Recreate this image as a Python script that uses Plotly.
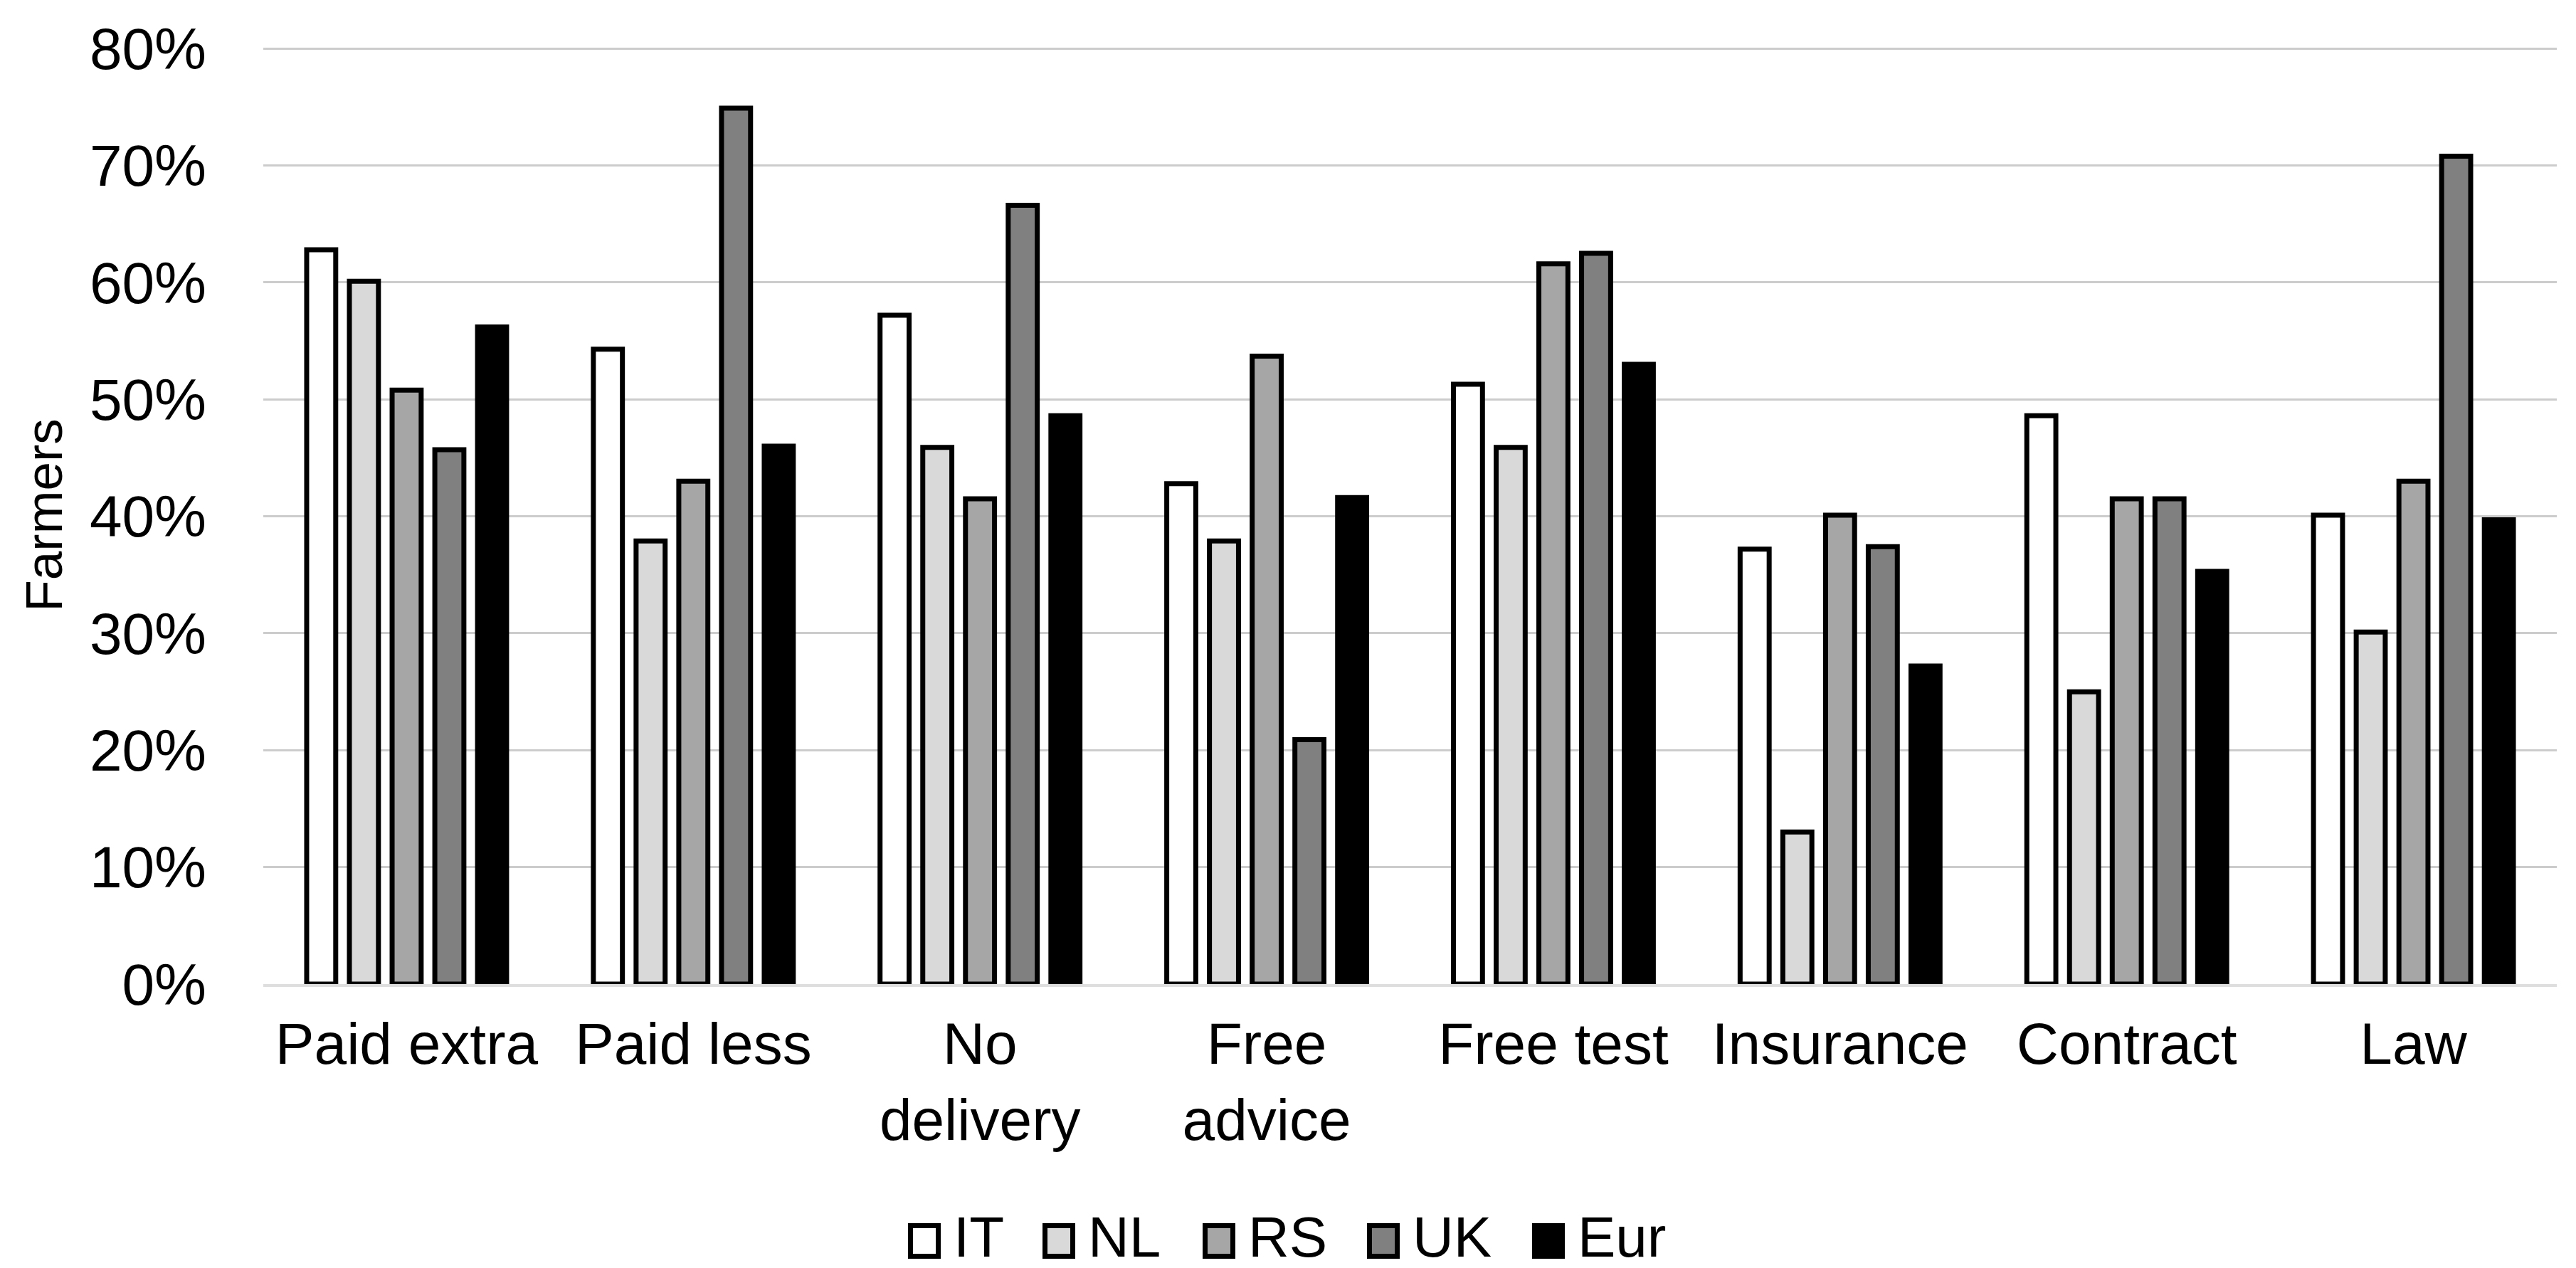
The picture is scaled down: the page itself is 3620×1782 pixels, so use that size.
import plotly.graph_objects as go

categories = ["Paid extra", "Paid less", "No<br>delivery", "Free<br>advice",
              "Free test", "Insurance", "Contract", "Law"]
series_names = ["IT", "NL", "RS", "UK", "Eur"]
IT = [0.628, 0.543, 0.572, 0.428, 0.513, 0.372, 0.486, 0.401]
NL = [0.601, 0.379, 0.459, 0.379, 0.459, 0.130, 0.250, 0.301]
RS = [0.508, 0.430, 0.415, 0.537, 0.616, 0.401, 0.415, 0.430]
UK = [0.457, 0.749, 0.666, 0.209, 0.625, 0.374, 0.415, 0.708]
Eur = [0.562, 0.460, 0.486, 0.416, 0.530, 0.272, 0.353, 0.397]
series_values = [IT, NL, RS, UK, Eur]
colors = ["#ffffff", "#d9d9d9", "#a6a6a6", "#808080", "#000000"]
y_ticks = [0, 0.1, 0.2, 0.3, 0.4, 0.5, 0.6, 0.7, 0.8]
y_tick_labels = ["0%", "10%", "20%", "30%", "40%", "50%", "60%", "70%", "80%"]

FONT = "Liberation Sans, Arial, sans-serif"
W, H = 3620, 1782
Y_MAX = 0.802
L, R, B = 362, 35, 407
PH = round((H - B - 60) * Y_MAX / 0.8)
T = H - B - PH
PW = W - L - R

fig = go.Figure()
for name, vals, col in zip(series_names, series_values, colors):
    fig.add_trace(go.Bar(
        name=name, x=categories, y=vals, showlegend=False,
        marker=dict(color=col, line=dict(color="#000000", width=7)),
    ))

# manual legend (large swatches like the original)
legend_left = [1268, 1457, 1682, 1913, 2145]  # pixel x of each swatch
box_w, box_h = 46, 50
legend_cy = 1736
def px_x(p):
    return (p - L) / PW
def px_y(p):
    return (H - B - p) / PH

shapes = []
annotations = []
for name, col, x0 in zip(series_names, colors, legend_left):
    shapes.append(dict(type="rect", xref="paper", yref="paper",
                       x0=px_x(x0 + 3.5), x1=px_x(x0 + box_w - 3.5),
                       y0=px_y(legend_cy + box_h / 2 - 3.5), y1=px_y(legend_cy - box_h / 2 + 3.5),
                       fillcolor=col, line=dict(color="#000000", width=7), layer="above"))
    annotations.append(dict(text=name, xref="paper", yref="paper",
                            x=px_x(x0 + box_w + 16), y=px_y(legend_cy - 6),
                            xanchor="left", yanchor="middle", showarrow=False,
                            font=dict(size=80, family=FONT, color="#000000")))

fig.update_layout(
    width=W, height=H,
    paper_bgcolor="white", plot_bgcolor="white",
    barmode="group", bargap=0.255, bargroupgap=0.32,
    margin=dict(l=L, r=R, t=T, b=B, autoexpand=False),
    font=dict(family=FONT, size=82, color="#000000"),
    showlegend=False,
    shapes=shapes, annotations=annotations,
    yaxis=dict(range=[0, Y_MAX], tickvals=y_ticks, ticktext=y_tick_labels,
               showgrid=True, gridcolor="#cccccc", gridwidth=3,
               zeroline=False, showline=False, ticks="",
               ticklabelstandoff=79,
               title=dict(text="Farmers", font=dict(size=73), standoff=14),
               tickfont=dict(size=82)),
    xaxis=dict(showline=True, linecolor="#dedede", linewidth=4, ticks="",
               tickfont=dict(size=82), ticklabelstandoff=10),
)

fig.write_html("out.html")
